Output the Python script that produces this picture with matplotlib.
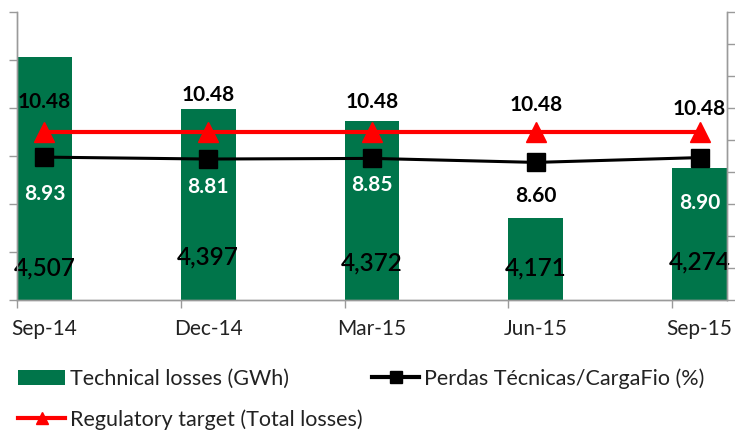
import matplotlib
matplotlib.use("Agg")
import matplotlib.pyplot as plt
from matplotlib.lines import Line2D
from matplotlib.patches import Patch
import numpy as np

plt.rcParams['font.family'] = ['Lato', 'DejaVu Sans']

# Data
quarters = ["Sep-14", "Dec-14", "Mar-15", "Jun-15", "Sep-15"]
tech_losses_gwh = [4507, 4397, 4372, 4171, 4274]
perdas_pct = [8.93, 8.81, 8.85, 8.60, 8.90]
regulatory_target = [10.48, 10.48, 10.48, 10.48, 10.48]

# Label placement (offsets in pixels from the mark)
target_lbl_dy = [30, 37, 30, 27, 23]
perdas_lbl_dy = [-37, -28, -27, -34, -45]
bar_lbl_dy = [32, 43, 37, 32, 38]
perdas_lbl_color = ["white", "white", "white", "black", "white"]

GREEN = "#00754A"
GRAY = "#9A9A9A"

W, H = 735, 434
fig = plt.figure(figsize=(W / 100, H / 100), dpi=100)
ax = fig.add_axes([17 / W, (H - 300) / H, 710 / W, 288 / H])
ax2 = ax.twinx()

x = np.arange(len(quarters))
bw = 0.335

bars = ax.bar(x, tech_losses_gwh, width=bw, color=GREEN, zorder=2)
ax.set_xlim(-bw / 2, len(quarters) - 1 + bw / 2)
ax.set_ylim(4000, 4600)
ax.set_yticks(np.arange(4000, 4601, 100))
ax.set_yticklabels([])

ax.set_xticks(x)
ax.set_xticklabels(quarters, fontsize=15, color="#222222")
ax.tick_params(axis="x", which="major", length=0, pad=14)
ax.set_xticks(x - bw / 2, minor=True)
ax.tick_params(axis="x", which="minor", length=6, color=GRAY, width=1)
ax.tick_params(axis="y", length=6, color=GRAY, width=1)

ax2.set_ylim(0, 18)
ax2.set_yticks(np.arange(0, 19, 2))
ax2.set_yticklabels([])
ax2.tick_params(axis="y", length=6, color=GRAY, width=1)

for a in (ax, ax2):
    a.spines["top"].set_visible(False)
    for s in ("left", "right", "bottom"):
        a.spines[s].set_color(GRAY)
        a.spines[s].set_linewidth(1)

ax.set_zorder(1)
ax2.set_zorder(2)
ax.patch.set_visible(False)

ax2.plot(x, regulatory_target, color="red", lw=3, marker="^", ms=14.5,
         zorder=3)
ax2.plot(x, perdas_pct, color="black", lw=2.2, marker="s", ms=13, zorder=4)

px = 72 / 100  # points per pixel
for i in range(len(quarters)):
    ax2.annotate(f"{regulatory_target[i]:.2f}", (x[i], regulatory_target[i]),
                 xytext=(0, target_lbl_dy[i] * px), textcoords="offset points",
                 ha="center", va="center", fontsize=15, fontweight="bold",
                 color="black", zorder=6)
    ax2.annotate(f"{perdas_pct[i]:.2f}", (x[i], perdas_pct[i]),
                 xytext=(0, perdas_lbl_dy[i] * px), textcoords="offset points",
                 ha="center", va="center", fontsize=15, fontweight="bold",
                 color=perdas_lbl_color[i], zorder=6)
    ax.annotate(f"{tech_losses_gwh[i]:,}", (x[i], 4000),
                xytext=(0, bar_lbl_dy[i] * px), textcoords="offset points",
                ha="center", va="center", fontsize=17.5, color="black",
                fontweight="semibold", zorder=6, annotation_clip=False)

handles = [
    Patch(facecolor=GREEN, edgecolor="none"),
    Line2D([], [], color="red", lw=3, marker="^", ms=9),
    Line2D([], [], color="black", lw=3, marker="s", ms=9),
]
labels = ["Technical losses (GWh)", "Regulatory target (Total losses)",
          "Perdas Técnicas/CargaFio (%)"]
fig.legend(handles, labels, ncol=2, loc="upper left",
           bbox_to_anchor=(18 / W, (H - 368) / H), frameon=False,
           fontsize=15.5, handlelength=2.2, handletextpad=0.2,
           columnspacing=0.45, labelspacing=0.95, borderpad=0,
           borderaxespad=0, labelcolor="#222222")

fig.savefig("out.png", dpi=100)
